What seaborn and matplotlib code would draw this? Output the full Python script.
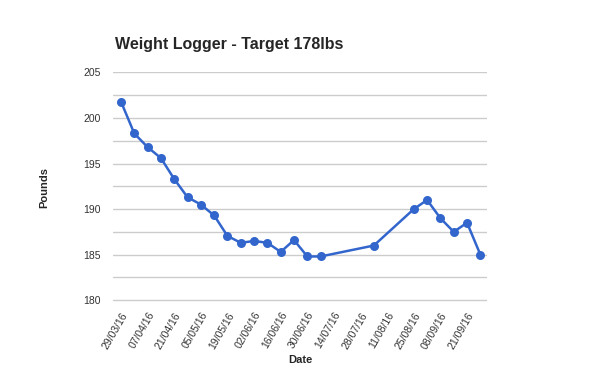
import numpy as np
import pandas as pd
import matplotlib
matplotlib.use("Agg")
import matplotlib.pyplot as plt
import seaborn as sns

# Data (x = week number since first weigh-in)
weeks = [0, 1, 2, 3, 4, 5, 6, 7, 8, 9, 10, 11, 12, 13, 14, 15,
         19, 22, 23, 24, 25, 26, 27]
pounds = [201.8, 198.3, 196.8, 195.6, 193.3, 191.3, 190.5, 189.3, 187.05,
          186.3, 186.5, 186.3, 185.3, 186.6, 184.8, 184.8,
          186.0, 190.0, 191.0, 189.0, 187.5, 188.5, 185.0]
tick_weeks = [0, 2, 4, 6, 8, 10, 12, 14, 16, 18, 20, 22, 24, 26]
tick_labels = ["29/03/16", "07/04/16", "21/04/16", "05/05/16", "19/05/16",
               "02/06/16", "16/06/16", "30/06/16", "14/07/16", "28/07/16",
               "11/08/16", "25/08/16", "08/09/16", "21/09/16"]

df = pd.DataFrame({"week": weeks, "pounds": pounds})

sns.set_style("white")
plt.rcParams["font.family"] = ["Liberation Sans", "DejaVu Sans"]

fig = plt.figure(figsize=(6, 3.71), dpi=100)
ax = fig.add_axes([113 / 600, 1 - 302 / 371, 374 / 600, 230 / 371])

sns.lineplot(data=df, x="week", y="pounds", ax=ax, color="#3366cc",
             linewidth=1.8, marker="o", markersize=6.5,
             markeredgewidth=0, zorder=3)

ax.set_xlim(-0.6, 27.5)
ax.set_ylim(179.8, 205.05)
ax.set_yticks(np.arange(180, 206, 5))
ax.set_yticks(np.arange(180, 206, 2.5), minor=True)
ax.set_yticklabels([str(v) for v in range(180, 206, 5)])
ax.grid(True, which="both", axis="y", color="#cccccc", linewidth=1)
ax.grid(False, axis="x")
ax.set_xticks(tick_weeks)
ax.set_xticklabels(tick_labels, rotation=60, ha="right",
                   rotation_mode="anchor")
ax.tick_params(axis="both", which="both", length=0, labelsize=7.5,
               colors="#333333")
ax.tick_params(axis="y", pad=9)
ax.tick_params(axis="x", pad=6)
for s in ax.spines.values():
    s.set_visible(False)

ax.set_xlabel("Date", fontsize=8, fontweight="bold", labelpad=3)
ax.set_ylabel("Pounds", fontsize=8, fontweight="bold", labelpad=24)
fig.text(115 / 600, 1 - 45 / 371, "Weight Logger - Target 178lbs",
         fontsize=11.5, fontweight="bold", va="center", ha="left")

fig.savefig("out.png", dpi=100)
